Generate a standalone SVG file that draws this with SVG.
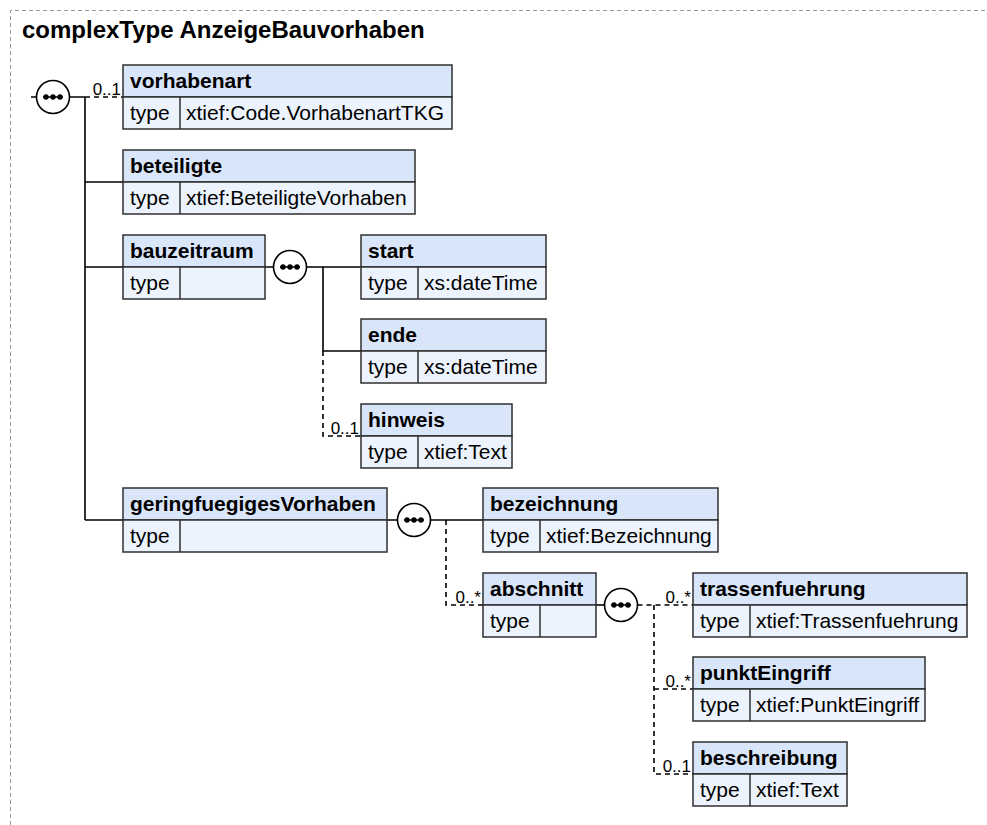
<svg xmlns="http://www.w3.org/2000/svg" width="987" height="825" viewBox="0 0 987 825">
<style>
.hdr{fill:#d9e5f9;stroke:#2f2f2f;stroke-width:1.5}
.row{fill:#edf3fd;stroke:#2f2f2f;stroke-width:1.5}
.sep{stroke:#2f2f2f;stroke-width:1.5}
.nm{font-family:"Liberation Sans",Arial,sans-serif;font-weight:bold;font-size:21px;fill:#000}
.tx{font-family:"Liberation Sans",Arial,sans-serif;font-size:21px;fill:#000}
.card{font-family:"Liberation Sans",Arial,sans-serif;font-size:17px;fill:#000;text-anchor:end}
.ln{stroke:#000;stroke-width:1.6;fill:none}
.dl{stroke:#000;stroke-width:1.6;fill:none;stroke-dasharray:5,4}
.seq{fill:#fff;stroke:#000;stroke-width:1.6}
.dot{fill:#000}
.title{font-family:"Liberation Sans",Arial,sans-serif;font-weight:bold;font-size:24px;fill:#000}
</style>
<defs>
<g id="seqsym">
<circle class="seq" cx="0" cy="0" r="16.5"/>
<line x1="-10" y1="0" x2="10" y2="0" stroke="#000" stroke-width="1.5"/>
<circle class="dot" cx="-7" cy="0" r="2.7"/>
<circle class="dot" cx="0" cy="0" r="2.7"/>
<circle class="dot" cx="7" cy="0" r="2.7"/>
</g>
</defs>
<path d="M10.5,825 V10.5 H987" fill="none" stroke="#999" stroke-width="1" stroke-dasharray="4,3"/>
<text class="title" x="22" y="38">complexType AnzeigeBauvorhaben</text>

<g id="connectors">
<path class="ln" d="M31,97 H36.5 M69.5,97 H85 M85,97 V520 M85,182 H123 M85,267 H123 M85,520 H123"/>
<path class="dl" d="M85,97 H123"/>
<text class="card" x="121" y="95">0..1</text>
<path class="ln" d="M265,267 H273.5 M306.5,267 H361 M323,267 V351 H361"/>
<path class="dl" d="M323,351 V436 H361"/>
<text class="card" x="359" y="434">0..1</text>
<path class="ln" d="M387,520 H397.5 M430.5,520 H483"/>
<path class="dl" d="M446,520 V605 H483"/>
<text class="card" x="481" y="603">0..*</text>
<path class="ln" d="M596,605 H604.5"/>
<path class="dl" d="M637.5,605 H693 M654,605 V774 H693 M654,689 H693"/>
<text class="card" x="691" y="603">0..*</text>
<text class="card" x="691" y="687">0..*</text>
<text class="card" x="691" y="772">0..1</text>
</g>

<g id="seq-main"><use href="#seqsym" x="53" y="97"/></g>
<g id="seq-bauzeitraum"><use href="#seqsym" x="290" y="267"/></g>
<g id="seq-geringfuegigesVorhaben"><use href="#seqsym" x="414" y="520"/></g>
<g id="seq-abschnitt"><use href="#seqsym" x="621" y="605"/></g>

<g id="vorhabenart">
<rect class="hdr" x="123" y="65" width="329" height="32"/>
<rect class="row" x="123" y="97" width="329" height="32"/>
<line class="sep" x1="180" y1="97" x2="180" y2="129"/>
<text class="nm" x="130" y="88">vorhabenart</text>
<text class="tx" x="130" y="120">type</text>
<text class="tx" x="186" y="120">xtief:Code.VorhabenartTKG</text>
</g>
<g id="beteiligte">
<rect class="hdr" x="123" y="150" width="292" height="32"/>
<rect class="row" x="123" y="182" width="292" height="32"/>
<line class="sep" x1="180" y1="182" x2="180" y2="214"/>
<text class="nm" x="130" y="173">beteiligte</text>
<text class="tx" x="130" y="205">type</text>
<text class="tx" x="186" y="205">xtief:BeteiligteVorhaben</text>
</g>
<g id="bauzeitraum">
<rect class="hdr" x="123" y="235" width="142" height="32"/>
<rect class="row" x="123" y="267" width="142" height="32"/>
<line class="sep" x1="180" y1="267" x2="180" y2="299"/>
<text class="nm" x="130" y="258">bauzeitraum</text>
<text class="tx" x="130" y="290">type</text>
</g>
<g id="start">
<rect class="hdr" x="361" y="235" width="185" height="32"/>
<rect class="row" x="361" y="267" width="185" height="32"/>
<line class="sep" x1="418" y1="267" x2="418" y2="299"/>
<text class="nm" x="368" y="258">start</text>
<text class="tx" x="368" y="290">type</text>
<text class="tx" x="424" y="290">xs:dateTime</text>
</g>
<g id="ende">
<rect class="hdr" x="361" y="319" width="185" height="32"/>
<rect class="row" x="361" y="351" width="185" height="32"/>
<line class="sep" x1="418" y1="351" x2="418" y2="383"/>
<text class="nm" x="368" y="342">ende</text>
<text class="tx" x="368" y="374">type</text>
<text class="tx" x="424" y="374">xs:dateTime</text>
</g>
<g id="hinweis">
<rect class="hdr" x="361" y="404" width="151" height="32"/>
<rect class="row" x="361" y="436" width="151" height="32"/>
<line class="sep" x1="418" y1="436" x2="418" y2="468"/>
<text class="nm" x="368" y="427">hinweis</text>
<text class="tx" x="368" y="459">type</text>
<text class="tx" x="424" y="459">xtief:Text</text>
</g>
<g id="geringfuegigesVorhaben">
<rect class="hdr" x="123" y="488" width="264" height="32"/>
<rect class="row" x="123" y="520" width="264" height="32"/>
<line class="sep" x1="180" y1="520" x2="180" y2="552"/>
<text class="nm" x="130" y="511">geringfuegigesVorhaben</text>
<text class="tx" x="130" y="543">type</text>
</g>
<g id="bezeichnung">
<rect class="hdr" x="483" y="488" width="235" height="32"/>
<rect class="row" x="483" y="520" width="235" height="32"/>
<line class="sep" x1="540" y1="520" x2="540" y2="552"/>
<text class="nm" x="490" y="511">bezeichnung</text>
<text class="tx" x="490" y="543">type</text>
<text class="tx" x="546" y="543">xtief:Bezeichnung</text>
</g>
<g id="abschnitt">
<rect class="hdr" x="483" y="573" width="113" height="32"/>
<rect class="row" x="483" y="605" width="113" height="32"/>
<line class="sep" x1="540" y1="605" x2="540" y2="637"/>
<text class="nm" x="490" y="596">abschnitt</text>
<text class="tx" x="490" y="628">type</text>
</g>
<g id="trassenfuehrung">
<rect class="hdr" x="693" y="573" width="274" height="32"/>
<rect class="row" x="693" y="605" width="274" height="32"/>
<line class="sep" x1="750" y1="605" x2="750" y2="637"/>
<text class="nm" x="700" y="596">trassenfuehrung</text>
<text class="tx" x="700" y="628">type</text>
<text class="tx" x="756" y="628">xtief:Trassenfuehrung</text>
</g>
<g id="punktEingriff">
<rect class="hdr" x="693" y="657" width="232" height="32"/>
<rect class="row" x="693" y="689" width="232" height="32"/>
<line class="sep" x1="750" y1="689" x2="750" y2="721"/>
<text class="nm" x="700" y="680">punktEingriff</text>
<text class="tx" x="700" y="712">type</text>
<text class="tx" x="756" y="712">xtief:PunktEingriff</text>
</g>
<g id="beschreibung">
<rect class="hdr" x="693" y="742" width="154" height="32"/>
<rect class="row" x="693" y="774" width="154" height="32"/>
<line class="sep" x1="750" y1="774" x2="750" y2="806"/>
<text class="nm" x="700" y="765">beschreibung</text>
<text class="tx" x="700" y="797">type</text>
<text class="tx" x="756" y="797">xtief:Text</text>
</g>
</svg>
